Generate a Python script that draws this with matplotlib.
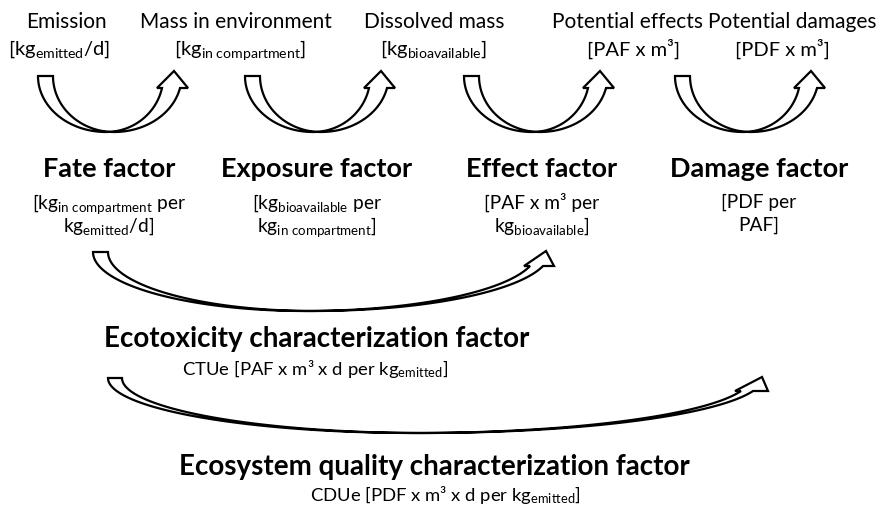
import numpy as np
import matplotlib
matplotlib.use("Agg")
import matplotlib.pyplot as plt
from matplotlib.patches import Polygon

plt.rcParams['font.family'] = ['Lato', 'DejaVu Sans']
plt.rcParams['mathtext.fontset'] = 'custom'
plt.rcParams['mathtext.rm'] = 'Lato'
plt.rcParams['mathtext.it'] = 'Lato:italic'
plt.rcParams['mathtext.bf'] = 'Lato:bold'

# texts of the diagram
stage_names = ['Emission', 'Mass in environment', 'Dissolved mass',
               'Potential effects', 'Potential damages']
stage_units = ['[kg$_{\\mathrm{emitted}}$/d]',
               '[kg$_{\\mathrm{in\\ compartment}}$]',
               '[kg$_{\\mathrm{bioavailable}}$]',
               '[PAF x m³]',
               '[PDF x m³]']
factor_names = ['Fate factor', 'Exposure factor', 'Effect factor', 'Damage factor']
factor_units = [['[kg$_{\\mathrm{in\\ compartment}}$ per', 'kg$_{\\mathrm{emitted}}$/d]'],
                ['[kg$_{\\mathrm{bioavailable}}$ per', 'kg$_{\\mathrm{in\\ compartment}}$]'],
                ['[PAF x m³ per', 'kg$_{\\mathrm{bioavailable}}$]'],
                ['[PDF per', 'PAF]']]
cf_names = ['Ecotoxicity characterization factor',
            'Ecosystem quality characterization factor']
cf_units = ['CTUe [PAF x m³ x d per kg$_{\\mathrm{emitted}}$]',
            'CDUe [PDF x m³ x d per kg$_{\\mathrm{emitted}}$]']

# layout (pixels, y down)
stage_x = [66, 236, 434, 627, 792]
unit_x = [59, 240, 433, 634, 782]
factor_x = [109, 317, 542, 759]
cf_x = [317, 434]
cf_unit_x = [315, 445]
small_arrow_dx = [0, 207, 426, 637]

fig = plt.figure(figsize=(8.85, 5.06), dpi=100)
ax = fig.add_axes([0, 0, 1, 1])
ax.set_xlim(0, 885)
ax.set_ylim(506, 0)
ax.axis('off')


def edge(xl, xb, yb, xr, cy, yend, n=120):
    # left quarter ellipse from (xl, cy) to bottom (xb, yb), then right part up to (xr, yend)
    ry = yb - cy
    th1 = np.linspace(np.pi, np.pi / 2, n)
    x1 = xb + (xb - xl) * np.cos(th1)
    y1 = cy + ry * np.sin(th1)
    the = np.arcsin((yend - cy) / ry)
    rxr = (xr - xb) / np.cos(the)
    th2 = np.linspace(np.pi / 2, the, n)[1:]
    x2 = xb + rxr * np.cos(th2)
    y2 = cy + ry * np.sin(th2)
    return np.r_[x1, x2], np.r_[y1, y2]


def curved_arrow(a, b, cy, yend, hl, hr, apex, lw=1.6):
    xa, ya = edge(*a, cy, yend)
    xb_, yb_ = edge(*b, cy, yend)
    pts = list(zip(xa, ya))
    pts += [(hl, yend), apex, (hr, yend)]
    pts += list(zip(xb_[::-1], yb_[::-1]))
    ax.add_patch(Polygon(pts, closed=True, facecolor='white', edgecolor='black',
                         lw=lw, joinstyle='miter'))


# small arrows between stages
for dx in small_arrow_dx:
    curved_arrow((38 + dx, 106 + dx, 133, 162 + dx), (53 + dx, 114 + dx, 133, 180 + dx),
                 cy=77, yend=89, hl=157 + dx, hr=188 + dx, apex=(174 + dx, 72))

# big arrows
curved_arrow((93, 305, 312, 530), (108, 313, 312, 543),
             cy=253, yend=267, hl=524, hr=554, apex=(546, 252))
curved_arrow((108, 415, 434, 741), (122, 423, 434, 753),
             cy=379, yend=392, hl=735, hr=768, apex=(762, 378))

for x, s in zip(stage_x, stage_names):
    ax.text(x, 20, s, ha='center', va='center_baseline', fontsize=15)
for x, s in zip(unit_x, stage_units):
    ax.text(x, 47, s, ha='center', va='center_baseline', fontsize=14.5)

for x, s, u in zip(factor_x, factor_names, factor_units):
    ax.text(x, 167, s, ha='center', va='center_baseline', fontsize=19.5, fontweight='bold')
    ax.text(x, 201, u[0], ha='center', va='center_baseline', fontsize=13.8)
    ax.text(x, 224, u[1], ha='center', va='center_baseline', fontsize=13.8)

for x, y, s in zip(cf_x, [337, 465], cf_names):
    ax.text(x, y, s, ha='center', va='center_baseline', fontsize=20, fontweight='bold')
for x, y, s in zip(cf_unit_x, [367, 493], cf_units):
    ax.text(x, y, s, ha='center', va='center_baseline', fontsize=13.3)

fig.savefig('out.png', dpi=100)
